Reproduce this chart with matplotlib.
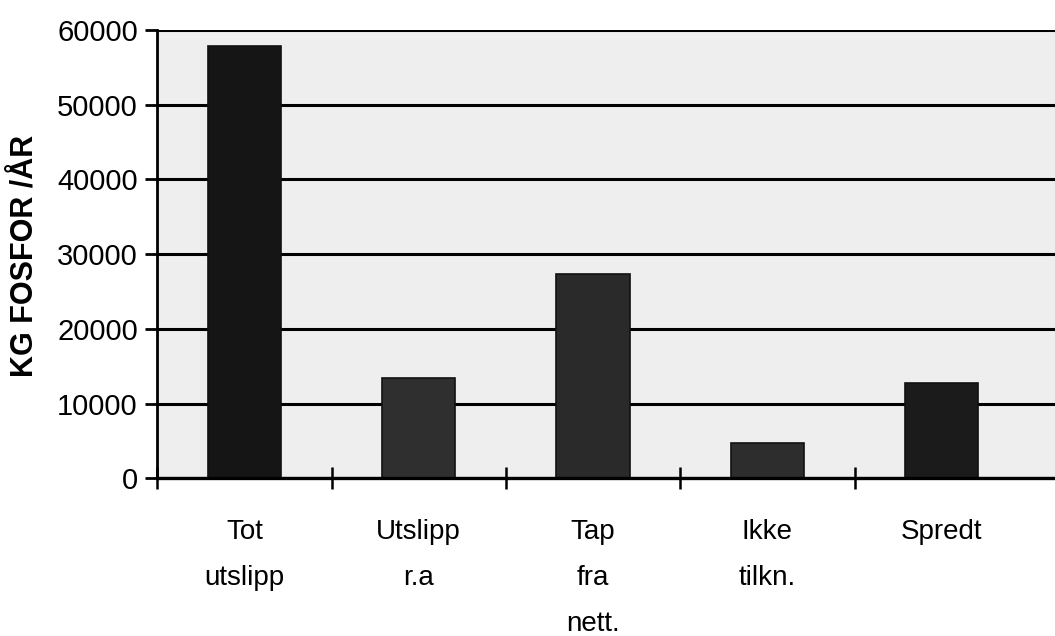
import numpy as np
import matplotlib.pyplot as plt

# --- data ---
categories = ["Tot\nutslipp", "Utslipp\nr.a", "Tap\nfra\nnett.", "Ikke\ntilkn.", "Spredt"]
values = [57800, 13400, 27400, 4700, 12700]
bar_colors = ["#151515", "#2f2f2f", "#2a2a2a", "#2d2d2d", "#1b1b1b"]
y_ticks = [0, 10000, 20000, 30000, 40000, 50000, 60000]

plt.rcParams['font.family'] = ['Liberation Sans', 'DejaVu Sans']

fig = plt.figure(figsize=(10.55, 6.36), dpi=100)
ax = fig.add_axes([0.149, 0.248, 0.851, 0.705])
ax.set_facecolor("#eeeeee")

x = np.arange(len(categories))
ax.bar(x, values, width=0.42, color=bar_colors, edgecolor="#111111",
       linewidth=1.2, zorder=3)

# the scanned original is slightly compressed on the right
ax.set_xlim(-0.5, len(categories) - 0.35)
ax.set_ylim(0, 60000)

# black gridlines at every 10000
ax.set_yticks(y_ticks)
ax.set_yticklabels([str(v) for v in y_ticks], fontsize=21)
ax.grid(axis='y', color='black', linewidth=2.2, zorder=1)
ax.grid(axis='x', visible=False)

ax.set_xticks(x)
ax.set_xticklabels(categories, fontsize=20, linespacing=2.0, va='top')
ax.tick_params(axis='x', which='major', length=0, pad=29)
ax.set_xticks(np.arange(-0.5, len(categories) - 0.5, 1.0), minor=True)
ax.tick_params(axis='x', which='minor', length=16, width=1.8,
               direction='inout', color='black')
ax.tick_params(axis='y', length=9, width=2, color='black', pad=5)

for side in ['top', 'right']:
    ax.spines[side].set_visible(False)
ax.spines['left'].set_linewidth(2)
ax.spines['bottom'].set_linewidth(2.4)
ax.spines['bottom'].set_zorder(4)

fig.text(0.024, 0.597, "KG FOSFOR /ÅR", rotation=90, fontsize=22,
         fontweight='bold', ha='center', va='center')

fig.savefig("out.png", dpi=100)
